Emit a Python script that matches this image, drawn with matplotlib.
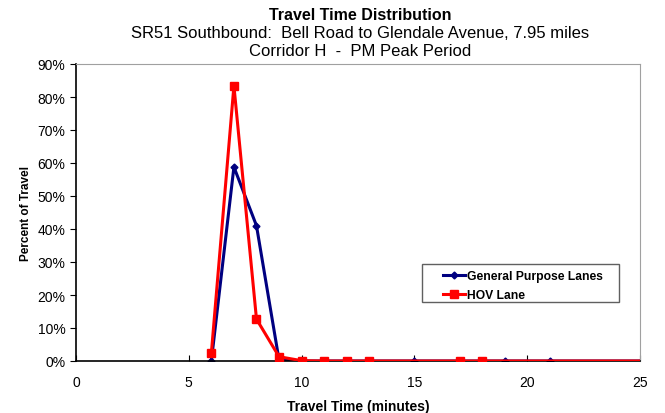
import numpy as np
import matplotlib.pyplot as plt
from matplotlib.patches import Rectangle
from matplotlib.ticker import PercentFormatter

plt.rcParams['font.family'] = ['Liberation Sans', 'DejaVu Sans']

gp_time = [6, 7, 8, 9, 10, 15, 19, 21, 25]
gp_pct = [0.0, 58.8, 41.0, 0.3, 0.0, 0.0, 0.0, 0.0, 0.0]
hov_time = [6, 7, 8, 9, 10, 11, 12, 13, 17, 18, 25]
hov_pct = [2.4, 83.4, 12.7, 1.3, 0.1, 0.0, 0.0, 0.0, 0.0, 0.0, 0.0]

title = 'Travel Time Distribution'
subtitle_lines = ['SR51 Southbound:  Bell Road to Glendale Avenue, 7.95 miles',
                  'Corridor H  -  PM Peak Period']

fig = plt.figure(figsize=(6.65, 4.14), dpi=100)
ax = fig.add_axes([76 / 665, 1 - 362 / 414, 564 / 665, 297 / 414])

ax.plot(gp_time, gp_pct, color='#000080', lw=2.2, marker='D', ms=3.5,
        markevery=list(range(len(gp_time) - 1)), label='General Purpose Lanes', zorder=2)
ax.plot(hov_time, hov_pct, color='#ff0000', lw=2.2, marker='s', ms=6,
        markevery=list(range(len(hov_time) - 1)), label='HOV Lane', zorder=3)

ax.set_xlim(0, 25)
ax.set_ylim(0, 90)
ax.set_xticks(np.arange(0, 26, 5))
ax.set_yticks(np.arange(0, 91, 10))
ax.yaxis.set_major_formatter(PercentFormatter(decimals=0))
ax.tick_params(labelsize=10, length=4, width=0.8, color='black')
ax.tick_params(axis='x', direction='in', pad=10)
for s in ('top', 'right'):
    ax.spines[s].set_color('#a0a0a0')
for s in ('left', 'bottom'):
    ax.spines[s].set_color('black')
    ax.spines[s].set_linewidth(1.2)

ax.set_xlabel('Travel Time (minutes)', fontsize=10, fontweight='bold', labelpad=7)
ax.set_ylabel('Percent of Travel', fontsize=8.5, fontweight='bold', labelpad=4)

fig.text(0.542, 1 - 15 / 414, title, ha='center', va='center', fontsize=11.5, fontweight='bold')
fig.text(0.542, 1 - 33 / 414, subtitle_lines[0], ha='center', va='center', fontsize=12)
fig.text(0.542, 1 - 52 / 414, subtitle_lines[1], ha='center', va='center', fontsize=12)

# legend box drawn separately so the handles sit indented like Excel
ax.add_patch(Rectangle((0.614, 0.199), 0.349, 0.128, transform=ax.transAxes,
                       facecolor='white', edgecolor='#606060', lw=1.0, zorder=4))
leg = ax.legend(loc='upper left', bbox_to_anchor=(0.651, 0.307), frameon=False,
                handlelength=1.8, handletextpad=0.15, borderpad=0, borderaxespad=0,
                labelspacing=0.6, prop={'weight': 'bold', 'size': 8.7})
leg.set_zorder(5)

fig.savefig('out.png', dpi=100)
